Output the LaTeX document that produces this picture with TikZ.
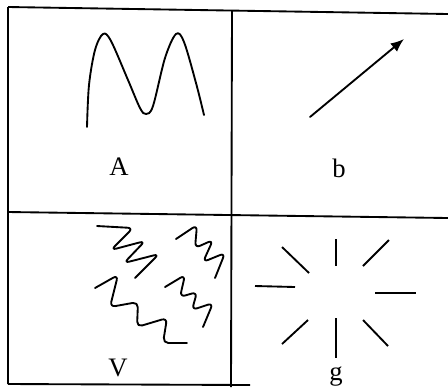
\documentclass[tikz,border=0pt]{standalone}
\usepackage{fontspec}
\setmainfont{Liberation Serif}
\usetikzlibrary{arrows.meta}

\begin{document}
\begin{tikzpicture}[x=0.75pt, y=-0.75pt,
    frame/.style={line width=1.4pt, black},
    curve/.style={line width=1.4pt, black, line join=round, line cap=round},
    lbl/.style={font=\fontsize{20}{22}\selectfont, inner sep=0pt}]
  \useasboundingbox (0,0) rectangle (448,387);

  % Grid
  \draw[frame] (8,7) -- (448,14);
  \draw[frame] (8,212) -- (448,218);
  \draw[frame] (8,7) -- (8,384);
  \draw[frame] (8,384) -- (250,385);
  \draw[frame] (232,10) -- (231,387);

  % A: double hump
  \draw[curve] plot[smooth, tension=0.55] coordinates {(87,127) (89,85) (95,50) (103,34)
    (111,41) (128,80) (140,108) (146,114) (153,106) (165,58) (176,34) (184,42)
    (196,83) (204,115)};
  \node[lbl] (labA) at (119,167) {A};

  % b: arrow
  \coordinate (bTail) at (310,117);
  \coordinate (bHead) at (404,39);
  \draw[curve, -{Latex[length=10pt, width=8pt]}] (bTail) -- (bHead);
  \node[lbl] (labB) at (339,168) {b};

  % V: zigzags
  \draw[curve, rounded corners=4pt] (97,226) -- (133,228) -- (111,250) -- (145,241)
    -- (124,263) -- (159,254) -- (135,278);
  \draw[curve, rounded corners=4pt] (176,239) -- (197,225) -- (195,248) -- (213,240)
    -- (203,262) -- (225,253) -- (215,278);
  \draw[curve, rounded corners=4pt] (95,288) -- (118,275) -- (110,307) -- (138,302)
    -- (137,327) -- (167,318) -- (163,343) -- (187,343);
  \draw[curve, rounded corners=4pt] (165,287) -- (185,275) -- (180,297) -- (197,292)
    -- (192,310) -- (213,303) -- (203,327);
  \node[lbl] (labV) at (118,368) {V};

  % g: rays
  \foreach \xa/\ya/\xb/\yb in {336/239/336/266, 282/247/309/273, 389/240/363/266,
      255/286/295/287, 375/293/416/293, 308/320/282/344, 336/318/336/358, 363/320/388/346}
    \draw[curve, line cap=butt] (\xa,\ya) -- (\xb,\yb);
  \node[lbl, anchor=base] (labG) at (336,380) {g};
\end{tikzpicture}
\end{document}
